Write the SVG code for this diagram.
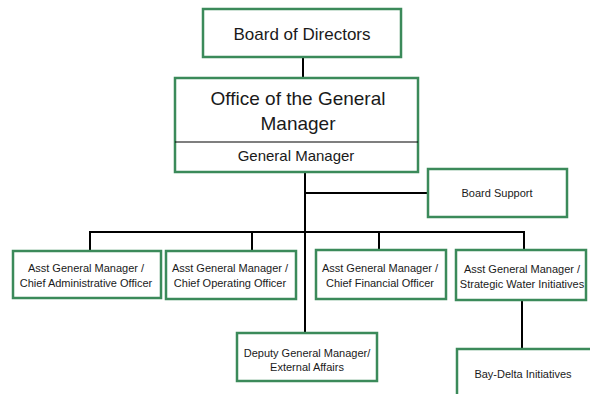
<svg xmlns="http://www.w3.org/2000/svg" width="590" height="394" viewBox="0 0 590 394">
<style>
.box{fill:#fff;stroke:#3b8a5a;stroke-width:2.5}
.t{font-family:"Liberation Sans",Arial,sans-serif;fill:#1a1a1a;text-anchor:middle}
.s{font-size:11px}
.c{stroke:#000;stroke-width:2;fill:none}
</style>
<rect width="590" height="394" fill="#fff"/>
<g id="connectors">
<path class="c" d="M303 57V78"/>
<path class="c" d="M305 172V333"/>
<path class="c" d="M305 193H428"/>
<path class="c" d="M90 250V232H524V250"/>
<path class="c" d="M252 232V250"/>
<path class="c" d="M379 232V250"/>
<path class="c" d="M522 300V349"/>
</g>
<g id="board">
<rect class="box" x="203" y="9" width="198" height="48"/>
<text class="t" x="302" y="40" font-size="17">Board of Directors</text>
</g>
<g id="ogm">
<rect class="box" x="175" y="78" width="243" height="94"/>
<line x1="175" y1="142" x2="418" y2="142" stroke="#000" stroke-width="1.2"/>
<text class="t" x="298" y="105" font-size="19">Office of the General</text>
<text class="t" x="298" y="130" font-size="19">Manager</text>
<text class="t" x="296" y="161" font-size="15">General Manager</text>
</g>
<g id="boardsupport">
<rect class="box" x="428" y="169" width="139" height="48"/>
<text class="t s" x="497" y="197">Board Support</text>
</g>
<g id="cao">
<rect class="box" x="13" y="251" width="148" height="47"/>
<text class="t s" x="86" y="272">Asst General Manager /</text>
<text class="t s" x="86" y="287">Chief Administrative Officer</text>
</g>
<g id="coo">
<rect class="box" x="166" y="251" width="130" height="48"/>
<text class="t s" x="230" y="272">Asst General Manager /</text>
<text class="t s" x="230" y="287">Chief Operating Officer</text>
</g>
<g id="cfo">
<rect class="box" x="316" y="250" width="130" height="49"/>
<text class="t s" x="380" y="272">Asst General Manager /</text>
<text class="t s" x="380" y="287">Chief Financial Officer</text>
</g>
<g id="swi">
<rect class="box" x="456" y="250" width="130" height="50"/>
<text class="t s" x="522" y="273">Asst General Manager /</text>
<text class="t s" x="522" y="288">Strategic Water Initiatives</text>
</g>
<g id="deputy">
<rect class="box" x="237" y="333" width="140" height="48"/>
<text class="t s" x="307" y="357">Deputy General Manager/</text>
<text class="t s" x="307" y="371">External Affairs</text>
</g>
<g id="baydelta">
<rect class="box" x="457" y="349" width="140" height="60"/>
<text class="t s" x="523" y="378">Bay-Delta Initiatives</text>
</g>
</svg>
